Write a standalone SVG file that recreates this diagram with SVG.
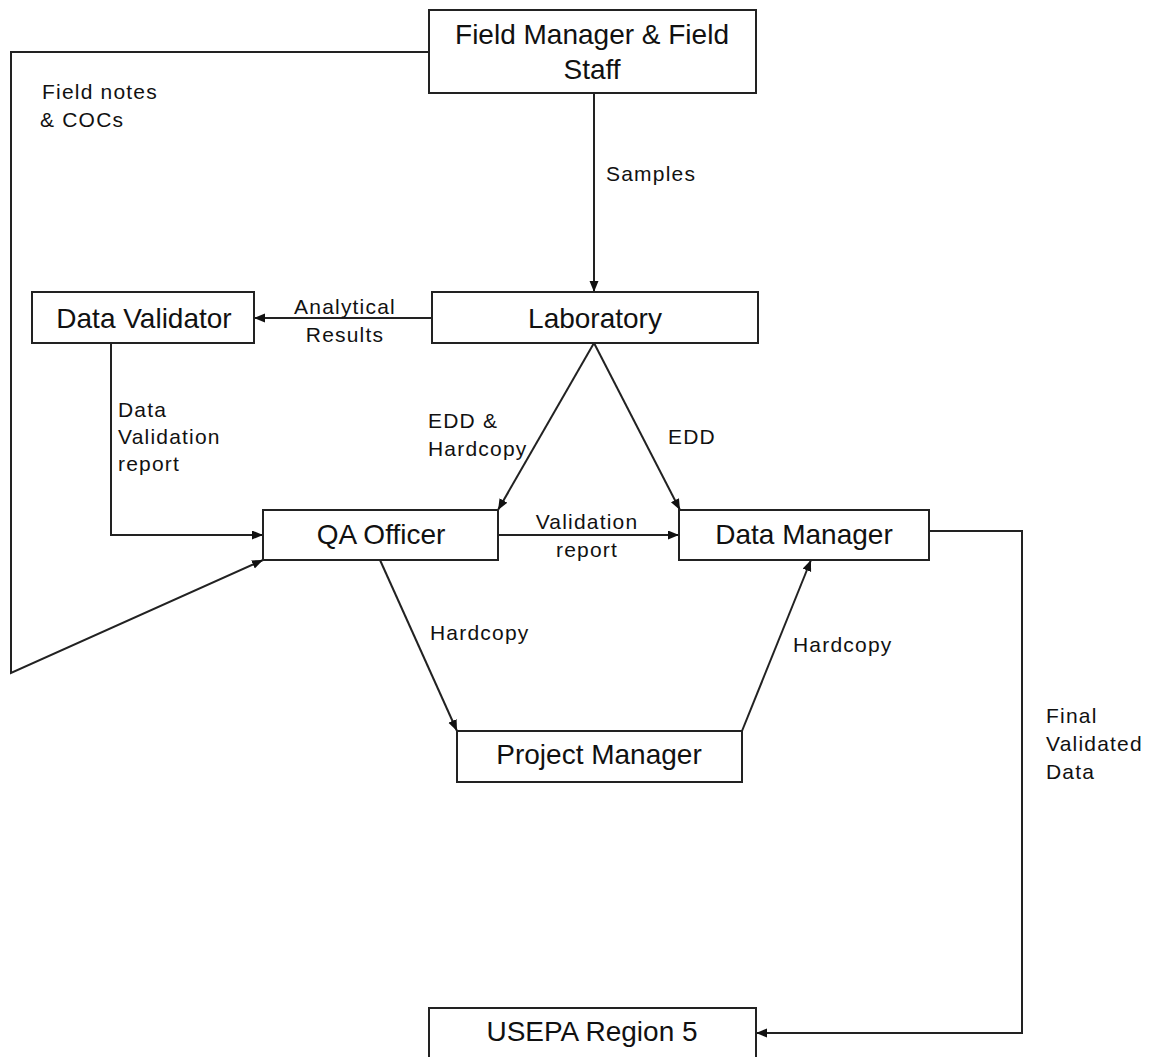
<svg xmlns="http://www.w3.org/2000/svg" width="1149" height="1057" viewBox="0 0 1149 1057">
<defs>
<marker id="ah" markerUnits="userSpaceOnUse" markerWidth="12" markerHeight="10" refX="11" refY="4.5" orient="auto">
<path d="M0,0 L11,4.5 L0,9 z" fill="#111"/>
</marker>
<style>
.box{fill:#fff;stroke:#222;stroke-width:2}
.nt{font-family:"Liberation Sans",Arial,sans-serif;font-size:28px;fill:#111;text-anchor:middle}
.lb{font-family:"Liberation Sans",Arial,sans-serif;font-size:21px;letter-spacing:1.2px;fill:#111}
.lbm{font-family:"Liberation Sans",Arial,sans-serif;font-size:21px;letter-spacing:1.2px;fill:#111;text-anchor:middle}
.c{fill:none;stroke:#222;stroke-width:2}
.ca{fill:none;stroke:#222;stroke-width:2;marker-end:url(#ah)}
</style>
</defs>
<rect width="1149" height="1057" fill="#fff"/>
<g id="connectors">
<path class="ca" d="M594,93 L594,292"/>
<path class="ca" d="M432,318 L254,318"/>
<path class="ca" d="M111,343 L111,535 L263,535"/>
<path class="ca" d="M429,52 L11,52 L11,673 L263,560"/>
<path class="ca" d="M594,343 L498,510"/>
<path class="ca" d="M594,343 L680,510"/>
<path class="ca" d="M498,535 L679,535"/>
<path class="ca" d="M380,560 L457,731"/>
<path class="ca" d="M742,731 L811,560"/>
<path class="ca" d="M929,531 L1022,531 L1022,1033 L756,1033"/>
</g>
<g id="labels">
<text class="lb" x="42" y="99">Field notes</text>
<text class="lb" x="40" y="127">&amp; COCs</text>
<text class="lb" x="606" y="181">Samples</text>
<text class="lbm" x="345" y="314">Analytical</text>
<text class="lbm" x="345" y="342">Results</text>
<text class="lb" x="118" y="417">Data</text>
<text class="lb" x="118" y="444">Validation</text>
<text class="lb" x="118" y="471">report</text>
<text class="lb" x="428" y="428">EDD &amp;</text>
<text class="lb" x="428" y="456">Hardcopy</text>
<text class="lb" x="668" y="444">EDD</text>
<text class="lbm" x="587" y="529">Validation</text>
<text class="lbm" x="587" y="557">report</text>
<text class="lb" x="430" y="640">Hardcopy</text>
<text class="lb" x="793" y="652">Hardcopy</text>
<text class="lb" x="1046" y="723">Final</text>
<text class="lb" x="1046" y="751">Validated</text>
<text class="lb" x="1046" y="779">Data</text>
</g>
<g id="node-field">
<rect class="box" x="429" y="10" width="327" height="83"/>
<text class="nt" x="592" y="44">Field Manager &amp; Field</text>
<text class="nt" x="592" y="79">Staff</text>
</g>
<g id="node-lab">
<rect class="box" x="432" y="292" width="326" height="51"/>
<text class="nt" x="595" y="328">Laboratory</text>
</g>
<g id="node-validator">
<rect class="box" x="32" y="292" width="222" height="51"/>
<text class="nt" x="144" y="328">Data Validator</text>
</g>
<g id="node-qa">
<rect class="box" x="263" y="510" width="235" height="50"/>
<text class="nt" x="381" y="544">QA Officer</text>
</g>
<g id="node-dm">
<rect class="box" x="679" y="510" width="250" height="50"/>
<text class="nt" x="804" y="544">Data Manager</text>
</g>
<g id="node-pm">
<rect class="box" x="457" y="731" width="285" height="51"/>
<text class="nt" x="599" y="764">Project Manager</text>
</g>
<g id="node-usepa">
<rect class="box" x="429" y="1008" width="327" height="52"/>
<text class="nt" x="592" y="1041">USEPA Region 5</text>
</g>
</svg>
